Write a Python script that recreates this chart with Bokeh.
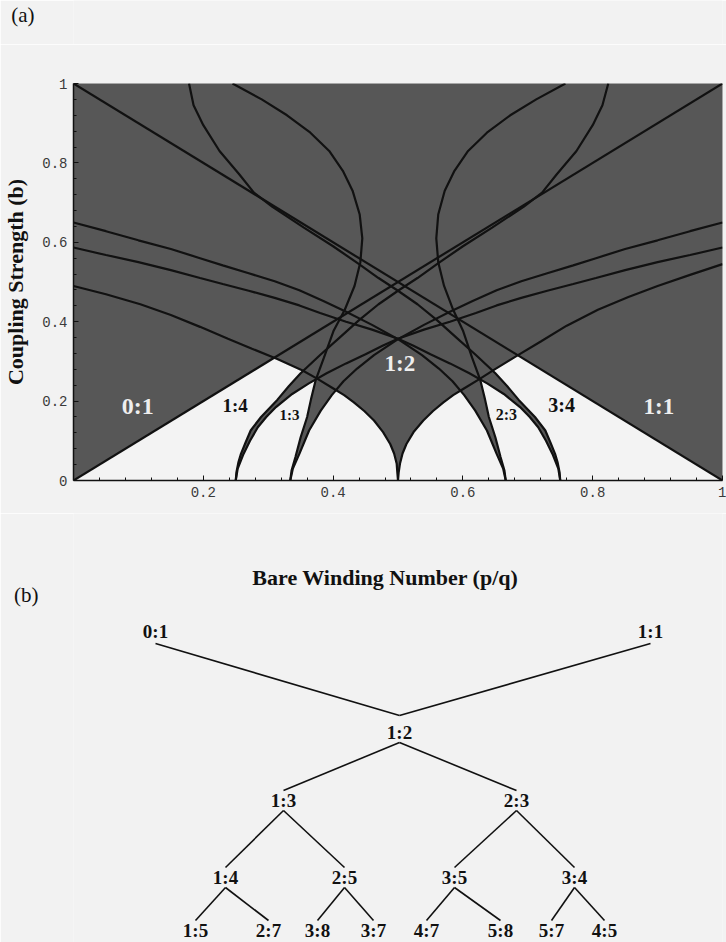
import numpy as np
from bokeh.plotting import figure
from bokeh.layouts import column
from bokeh.models import Range1d, FixedTicker
from bokeh.core.properties import value
from bokeh.embed import file_html
from bokeh.resources import INLINE

# ---------------- data: panel (a), tongue boundaries (x = bare winding number, b = coupling) ----------
L1_x = [0.0, 1.0]; L1_b = [0.0, 1.0]          # 0:1 boundary
L2_x = [0.0, 1.0]; L2_b = [1.0, 0.0]          # 1:1 boundary

# 1:2 tongue, left and right boundaries
P12L_x = [0.500, 0.499, 0.498, 0.494, 0.488, 0.477, 0.463, 0.448, 0.432, 0.417, 0.401, 0.376, 0.353,
          0.314, 0.275, 0.238, 0.195, 0.150, 0.103, 0.050, 0.000]
P12L_b = [0.000, 0.020, 0.042, 0.068, 0.092, 0.122, 0.151, 0.175, 0.197, 0.215, 0.231, 0.256, 0.277,
          0.306, 0.332, 0.357, 0.387, 0.417, 0.444, 0.469, 0.490]
P12R_x = [0.500, 0.501, 0.503, 0.507, 0.513, 0.524, 0.539, 0.554, 0.570, 0.585, 0.601, 0.626, 0.649,
          0.683, 0.720, 0.760, 0.808, 0.855, 0.900, 0.950, 1.000]
P12R_b = [0.000, 0.020, 0.042, 0.068, 0.092, 0.122, 0.151, 0.175, 0.197, 0.215, 0.231, 0.256, 0.280,
          0.314, 0.350, 0.390, 0.430, 0.462, 0.490, 0.518, 0.545]

# 1:4 tongue (outer / inner) and 3:4 tongue
O14_x = [0.250, 0.251, 0.254, 0.258, 0.265, 0.273, 0.289, 0.314, 0.332, 0.350, 0.380, 0.410, 0.440,
         0.470, 0.500, 0.530, 0.560, 0.600, 0.645, 0.694, 0.722, 0.745, 0.775, 0.800, 0.815, 0.824]
O14_b = [0.000, 0.020, 0.045, 0.067, 0.095, 0.126, 0.160, 0.203, 0.238, 0.270, 0.316, 0.360, 0.404,
         0.444, 0.478, 0.510, 0.545, 0.590, 0.637, 0.690, 0.725, 0.772, 0.830, 0.895, 0.945, 1.000]
O34_x = [0.750, 0.749, 0.746, 0.742, 0.735, 0.727, 0.711, 0.686, 0.668, 0.650, 0.620, 0.590, 0.560,
         0.530, 0.500, 0.470, 0.440, 0.400, 0.355, 0.306, 0.278, 0.255, 0.225, 0.200, 0.185, 0.178]
O34_b = [0.000, 0.020, 0.045, 0.067, 0.095, 0.126, 0.160, 0.203, 0.238, 0.270, 0.316, 0.360, 0.404,
         0.444, 0.478, 0.510, 0.545, 0.590, 0.637, 0.690, 0.725, 0.772, 0.830, 0.895, 0.945, 1.000]
I14_x = [0.250, 0.253, 0.262, 0.272, 0.284, 0.297, 0.312, 0.337, 0.362, 0.390, 0.420, 0.450, 0.477,
         0.500, 0.540, 0.580, 0.620, 0.652, 0.690, 0.730, 0.770, 0.805, 0.850, 0.900, 0.950, 1.000]
I14_b = [0.000, 0.030, 0.067, 0.100, 0.134, 0.160, 0.185, 0.218, 0.244, 0.270, 0.295, 0.318, 0.340,
         0.357, 0.380, 0.400, 0.422, 0.441, 0.460, 0.478, 0.495, 0.510, 0.530, 0.550, 0.568, 0.587]
I34_x = [0.750, 0.747, 0.738, 0.728, 0.716, 0.703, 0.688, 0.663, 0.638, 0.610, 0.580, 0.550, 0.523,
         0.500, 0.460, 0.420, 0.380, 0.348, 0.310, 0.270, 0.230, 0.195, 0.150, 0.100, 0.050, 0.000]
I34_b = [0.000, 0.030, 0.067, 0.100, 0.134, 0.160, 0.185, 0.218, 0.244, 0.270, 0.295, 0.318, 0.340,
         0.357, 0.380, 0.400, 0.422, 0.441, 0.460, 0.478, 0.495, 0.510, 0.530, 0.550, 0.568, 0.587]

# 1:3 tongue and 2:3 tongue
O13_x = [0.334, 0.336, 0.342, 0.350, 0.360, 0.366, 0.373, 0.386, 0.401, 0.418, 0.433, 0.442, 0.445,
         0.441, 0.430, 0.415, 0.394, 0.365, 0.329, 0.290, 0.245]
O13_b = [0.000, 0.025, 0.059, 0.109, 0.160, 0.205, 0.252, 0.310, 0.378, 0.430, 0.490, 0.550, 0.610,
         0.670, 0.730, 0.780, 0.830, 0.876, 0.920, 0.960, 1.000]
O23_x = [0.666, 0.664, 0.658, 0.650, 0.640, 0.634, 0.627, 0.614, 0.600, 0.585, 0.571, 0.562, 0.559,
         0.562, 0.572, 0.587, 0.608, 0.637, 0.673, 0.713, 0.758]
O23_b = [0.000, 0.025, 0.059, 0.109, 0.160, 0.205, 0.252, 0.310, 0.378, 0.430, 0.490, 0.550, 0.610,
         0.670, 0.730, 0.780, 0.830, 0.876, 0.920, 0.960, 1.000]
I13_x = [0.334, 0.338, 0.348, 0.363, 0.381, 0.398, 0.416, 0.437, 0.463, 0.500, 0.540, 0.580, 0.615,
         0.652, 0.690, 0.730, 0.770, 0.805, 0.850, 0.900, 0.950, 1.000]
I13_b = [0.000, 0.030, 0.067, 0.126, 0.176, 0.215, 0.250, 0.282, 0.316, 0.356, 0.392, 0.425, 0.452,
         0.479, 0.502, 0.522, 0.542, 0.560, 0.583, 0.605, 0.628, 0.650]
I23_x = [0.666, 0.662, 0.652, 0.637, 0.619, 0.602, 0.584, 0.563, 0.537, 0.500, 0.460, 0.420, 0.385,
         0.348, 0.310, 0.270, 0.230, 0.195, 0.150, 0.100, 0.050, 0.000]
I23_b = [0.000, 0.030, 0.067, 0.126, 0.176, 0.215, 0.250, 0.282, 0.316, 0.356, 0.392, 0.425, 0.452,
         0.479, 0.502, 0.522, 0.542, 0.560, 0.583, 0.605, 0.628, 0.650]

TONGUE_LABELS = ["0:1", "1:4", "1:3", "1:2", "2:3", "3:4", "1:1"]
TONGUE_LX = [0.099, 0.249, 0.333, 0.503, 0.667, 0.752, 0.902]
TONGUE_LB = [0.188, 0.190, 0.166, 0.294, 0.167, 0.189, 0.186]

X_TICKS = [0.2, 0.4, 0.6, 0.8, 1]
X_TICK_LABELS = ["0.2", "0.4", "0.6", "0.8", "1"]
Y_TICKS = [0, 0.2, 0.4, 0.6, 0.8, 1]
Y_TICK_LABELS = ["0", "0.2", "0.4", "0.6", "0.8", "1"]
MINOR_TICKS = [0.04, 0.08, 0.12, 0.16, 0.24, 0.28, 0.32, 0.36, 0.44, 0.48, 0.52, 0.56,
               0.64, 0.68, 0.72, 0.76, 0.84, 0.88, 0.92, 0.96]

# ---------------- data: panel (b), Farey tree ----------------
TREE_LABELS = ["0:1", "1:1", "1:2", "1:3", "2:3", "1:4", "2:5", "3:5", "3:4",
               "1:5", "2:7", "3:8", "3:7", "4:7", "5:8", "5:7", "4:5"]
TREE_LEVEL = [0, 0, 1, 2, 2, 3, 3, 3, 3, 4, 4, 4, 4, 4, 4, 4, 4]
TREE_EDGES = [(0, 2), (1, 2), (2, 3), (2, 4), (3, 5), (3, 6), (4, 7), (4, 8),
              (5, 9), (5, 10), (6, 11), (6, 12), (7, 13), (7, 14), (8, 15), (8, 16)]

# ---------------- layout / style (page pixels) ----------------
NODE_X = [155, 650, 399, 283, 516, 225, 344, 454, 574, 195, 268, 317, 373, 426, 500, 551, 604]
ROW_Y = [631, 732, 800, 877, 930]
W = 726
FRAME_L, FRAME_R = 73, 4
FRAME_T, FRAME_H = 83, 397
HT = 44                      # strip holding "(a)"
HA = 513 - HT                # panel (a)
HB = 942 - 513               # panel (b)
FX0, FX1 = FRAME_L, W - FRAME_R
PAPER = "#f2f2f2"
WHITE_IN = "#f3f3f3"
DARK = "#575757"
INK = "#111111"
SERIF = "Liberation Serif"
MONO = "Liberation Mono"


def arr(x, y):
    return np.column_stack([np.asarray(x, float), np.asarray(y, float)])


def first_inter(A, B):
    best = None
    for i in range(len(A) - 1):
        p = A[i]; r = A[i + 1] - A[i]
        for j in range(len(B) - 1):
            q = B[j]; s = B[j + 1] - B[j]
            den = r[0] * s[1] - r[1] * s[0]
            if abs(den) < 1e-12:
                continue
            qp = q - p
            t = (qp[0] * s[1] - qp[1] * s[0]) / den
            u = (qp[0] * r[1] - qp[1] * r[0]) / den
            if 0 <= t <= 1 and 0 <= u <= 1:
                sa = i + t
                if sa > 1e-6 and (best is None or sa < best[0]):
                    best = (sa, j + u)
    return best


def point_at(C, s):
    i = min(int(np.floor(s)), len(C) - 2)
    t = s - i
    return C[i] + t * (C[i + 1] - C[i])


def sub(C, s1, s2):
    pts = [point_at(C, s1)]
    if s2 > s1:
        for k in range(int(np.floor(s1)) + 1, int(np.ceil(s2))):
            pts.append(C[k])
    else:
        for k in range(int(np.ceil(s1)) - 1, int(np.floor(s2)), -1):
            pts.append(C[k])
    pts.append(point_at(C, s2))
    return pts


def hide_axis_lines(ax):
    ax.axis_line_color = None
    ax.major_tick_line_color = None
    ax.minor_tick_line_color = None


L1 = arr(L1_x, L1_b); L2 = arr(L2_x, L2_b)
P12L = arr(P12L_x, P12L_b); P12R = arr(P12R_x, P12R_b)
O14 = arr(O14_x, O14_b); O34 = arr(O34_x, O34_b)
I14 = arr(I14_x, I14_b); I34 = arr(I34_x, I34_b)
O13 = arr(O13_x, O13_b); O23 = arr(O23_x, O23_b)
I13 = arr(I13_x, I13_b); I23 = arr(I23_x, I23_b)

regions = []
sPa, sL1 = first_inter(P12L, L1)
sPb, sO = first_inter(P12L, O14)
regions.append(sub(L1, 0, sL1) + sub(P12L, sPa, sPb) + sub(O14, sO, 0))
sA, sB = first_inter(I14, O13)
regions.append(sub(I14, 0, sA) + sub(O13, sB, 0))
sA, sB = first_inter(I13, P12L)
regions.append(sub(I13, 0, sA) + sub(P12L, sB, 0))
sA, sB = first_inter(I23, P12R)
regions.append(sub(I23, 0, sA) + sub(P12R, sB, 0))
sA, sB = first_inter(I34, O23)
regions.append(sub(I34, 0, sA) + sub(O23, sB, 0))
sPa, sL2 = first_inter(P12R, L2)
sPb, sO = first_inter(P12R, O34)
regions.append(sub(L2, 1, sL2) + sub(P12R, sPa, sPb) + sub(O34, sO, 0))

# ---------------- strip with "(a)" (drawn as a tick label of a bare axis) ----------------
pT = figure(width=W, height=HT, x_range=Range1d(FX0, FX1), y_range=Range1d(HT, 0),
            x_axis_type=None, output_backend="svg", toolbar_location=None,
            min_border_left=FRAME_L, min_border_right=FRAME_R, min_border_top=0, min_border_bottom=0,
            background_fill_color=PAPER, border_fill_color=PAPER)
pT.outline_line_color = None
pT.grid.visible = False
pT.yaxis.ticker = FixedTicker(ticks=[14])
pT.yaxis.major_label_overrides = {14: "(a)"}
pT.yaxis.major_label_text_font = SERIF
pT.yaxis.major_label_text_font_size = "21px"
pT.yaxis.major_label_text_color = INK
pT.yaxis.major_label_standoff = 33
hide_axis_lines(pT.yaxis[0])

# ---------------- figure: panel (a) ----------------
pA = figure(width=W, height=HA, x_range=Range1d(0, 1), y_range=Range1d(0, 1),
            output_backend="svg", toolbar_location=None,
            min_border_left=FRAME_L, min_border_right=FRAME_R, min_border_top=FRAME_T - HT,
            min_border_bottom=HA - (FRAME_T - HT) - FRAME_H,
            background_fill_color=DARK, border_fill_color=PAPER)
pA.outline_line_color = None
pA.grid.visible = False

for poly in regions:
    pa = np.array(poly)
    pA.patch(pa[:, 0], pa[:, 1], fill_color=WHITE_IN, line_color=None)

for C in [L1, L2, P12L, P12R, O14, O34, I14, I34, O13, O23, I13, I23]:
    pA.line(C[:, 0], C[:, 1], line_color=INK, line_width=2.2)

label_style = {"0:1": ("24px", "#eeeeee"), "1:2": ("23px", "#eeeeee"), "1:1": ("23px", "#eeeeee"),
               "1:4": ("19px", INK), "3:4": ("20px", INK), "1:3": ("15px", INK), "2:3": ("16px", INK)}
for lab, lx, lb in zip(TONGUE_LABELS, TONGUE_LX, TONGUE_LB):
    size, col = label_style[lab]
    pA.text(x=[lx], y=[lb], text=[lab], text_font=value(SERIF), text_font_style="bold",
            text_font_size=size, text_align="center", text_baseline="middle", text_color=col)

pA.xaxis.ticker = FixedTicker(ticks=X_TICKS, minor_ticks=MINOR_TICKS)
pA.yaxis.ticker = FixedTicker(ticks=Y_TICKS, minor_ticks=MINOR_TICKS)
pA.xaxis.major_label_overrides = dict(zip(X_TICKS, X_TICK_LABELS))
pA.yaxis.major_label_overrides = dict(zip(Y_TICKS, Y_TICK_LABELS))
for ax in (pA.xaxis, pA.yaxis):
    ax.major_tick_in = 5
    ax.major_tick_out = 0
    ax.minor_tick_in = 3
    ax.minor_tick_out = 0
    ax.major_tick_line_color = INK
    ax.minor_tick_line_color = INK
    ax.axis_line_color = INK
    ax.axis_line_width = 1.5
    ax.major_label_text_font = MONO
    ax.major_label_text_font_size = "14px"
    ax.major_label_text_color = "#3a3a3a"
    ax.major_label_standoff = 6
pA.yaxis.axis_label = "Coupling Strength (b)"
pA.yaxis.axis_label_text_font = SERIF
pA.yaxis.axis_label_text_font_style = "bold"
pA.yaxis.axis_label_text_font_size = "22px"
pA.yaxis.axis_label_text_color = INK
pA.yaxis.axis_label_standoff = 11

# ---------------- figure: panel (b) ----------------
pB = figure(width=W, height=HB, x_range=Range1d(FX0, FX1), y_range=Range1d(942, 513),
            x_axis_type=None, output_backend="svg", toolbar_location=None,
            min_border_left=FRAME_L, min_border_right=FRAME_R, min_border_top=0, min_border_bottom=0,
            background_fill_color=PAPER, border_fill_color=PAPER)
pB.outline_line_color = None
pB.grid.visible = False
pB.yaxis.ticker = FixedTicker(ticks=[594])
pB.yaxis.major_label_overrides = {594: "(b)"}
pB.yaxis.major_label_text_font = SERIF
pB.yaxis.major_label_text_font_size = "21px"
pB.yaxis.major_label_text_color = INK
pB.yaxis.major_label_standoff = 29
hide_axis_lines(pB.yaxis[0])

pB.text(x=[385], y=[577], text=["Bare Winding Number (p/q)"], text_font=value(SERIF),
        text_font_style="bold", text_font_size="22px", text_align="center",
        text_baseline="middle", text_color=INK)

xs0, ys0, xs1, ys1 = [], [], [], []
for a, c in TREE_EDGES:
    la, lc = TREE_LEVEL[a], TREE_LEVEL[c]
    xs0.append(NODE_X[a]); xs1.append(NODE_X[c])
    if la == 0:
        ys0.append(ROW_Y[0] + 12); ys1.append(ROW_Y[1] - 17)
    else:
        ys0.append(ROW_Y[la] + 10); ys1.append(ROW_Y[lc] - 10)
pB.segment(x0=xs0, y0=ys0, x1=xs1, y1=ys1, line_color=INK, line_width=1.6)

pB.text(x=NODE_X, y=[ROW_Y[l] for l in TREE_LEVEL], text=TREE_LABELS, text_font=value(SERIF),
        text_font_style="bold", text_font_size="19px", text_align="center",
        text_baseline="middle", text_color=INK)

layout = column(pT, pA, pB, spacing=0)
open("out.html", "w").write(file_html(layout, INLINE))
